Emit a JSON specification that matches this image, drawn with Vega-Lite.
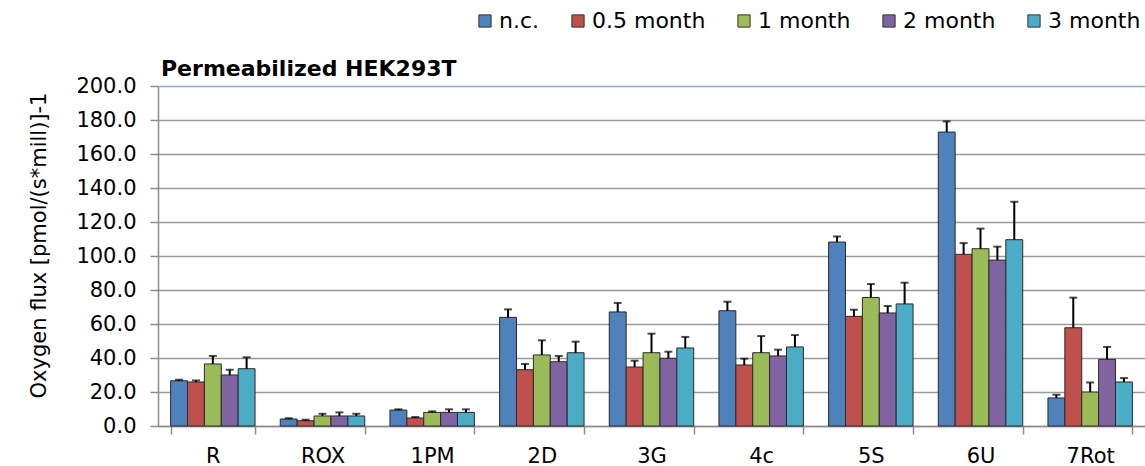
{
  "$schema": "https://vega.github.io/schema/vega-lite/v6.json",
  "autosize": "none",
  "width": 987,
  "height": 340,
  "padding": {"left": 158, "top": 86, "right": 0, "bottom": 40},
  "background": "white",
  "title": {
    "text": "Permeabilized HEK293T",
    "anchor": "start",
    "frame": "group",
    "font": "DejaVu Sans",
    "fontSize": 22,
    "fontWeight": "bold",
    "color": "#000000",
    "baseline": "alphabetic",
    "offset": -88,
    "dx": 3
  },
  "config": {
    "view": {"stroke": null},
    "font": "DejaVu Sans",
    "axis": {"labelColor": "#000000", "titleColor": "#000000"},
    "axisY": {
      "titleFontSize": 21,
      "titleFontWeight": "normal",
      "titleAngle": -90,
      "titleBaseline": "alphabetic",
      "titleAlign": "center",
      "titleX": -113,
      "titleY": 159,
      "labelOverlap": false,
      "format": ".1f",
      "labelFontSize": 21,
      "labelPadding": 14,
      "tickSize": 8,
      "tickColor": "#8c8c8c",
      "tickWidth": 1.5,
      "domainColor": "#8c8c8c",
      "domainWidth": 1.5,
      "grid": true,
      "gridColor": {"condition": {"test": "datum.value === 200", "value": "#8fa9d4"}, "value": "#9a9a9a"},
      "gridWidth": 1.5
    }
  },
  "data": {
    "values": [
      {"cat": "R", "series": "n.c.", "value": 26.6, "upper": 27.2},
      {"cat": "R", "series": "0.5 month", "value": 25.9, "upper": 26.8},
      {"cat": "R", "series": "1 month", "value": 36.5, "upper": 41.2},
      {"cat": "R", "series": "2 month", "value": 30.0, "upper": 33.1},
      {"cat": "R", "series": "3 month", "value": 33.7, "upper": 40.4},
      {"cat": "ROX", "series": "n.c.", "value": 4.1, "upper": 4.5},
      {"cat": "ROX", "series": "0.5 month", "value": 3.1, "upper": 3.7},
      {"cat": "ROX", "series": "1 month", "value": 5.9, "upper": 7.2},
      {"cat": "ROX", "series": "2 month", "value": 5.9, "upper": 8.0},
      {"cat": "ROX", "series": "3 month", "value": 5.9, "upper": 7.2},
      {"cat": "1PM", "series": "n.c.", "value": 9.4, "upper": 9.8},
      {"cat": "1PM", "series": "0.5 month", "value": 4.7, "upper": 5.3},
      {"cat": "1PM", "series": "1 month", "value": 8.0, "upper": 8.6},
      {"cat": "1PM", "series": "2 month", "value": 8.0, "upper": 9.8},
      {"cat": "1PM", "series": "3 month", "value": 8.0, "upper": 9.8},
      {"cat": "2D", "series": "n.c.", "value": 63.9, "upper": 68.6},
      {"cat": "2D", "series": "0.5 month", "value": 33.1, "upper": 36.5},
      {"cat": "2D", "series": "1 month", "value": 41.8, "upper": 50.4},
      {"cat": "2D", "series": "2 month", "value": 37.8, "upper": 41.2},
      {"cat": "2D", "series": "3 month", "value": 43.1, "upper": 49.6},
      {"cat": "3G", "series": "n.c.", "value": 67.1, "upper": 72.4},
      {"cat": "3G", "series": "0.5 month", "value": 34.7, "upper": 38.4},
      {"cat": "3G", "series": "1 month", "value": 43.1, "upper": 54.3},
      {"cat": "3G", "series": "2 month", "value": 39.8, "upper": 43.7},
      {"cat": "3G", "series": "3 month", "value": 45.9, "upper": 52.4},
      {"cat": "4c", "series": "n.c.", "value": 67.8, "upper": 73.1},
      {"cat": "4c", "series": "0.5 month", "value": 35.9, "upper": 39.6},
      {"cat": "4c", "series": "1 month", "value": 43.1, "upper": 52.9},
      {"cat": "4c", "series": "2 month", "value": 41.2, "upper": 44.9},
      {"cat": "4c", "series": "3 month", "value": 46.5, "upper": 53.5},
      {"cat": "5S", "series": "n.c.", "value": 108.2, "upper": 111.5},
      {"cat": "5S", "series": "0.5 month", "value": 64.5, "upper": 68.4},
      {"cat": "5S", "series": "1 month", "value": 75.6, "upper": 83.5},
      {"cat": "5S", "series": "2 month", "value": 66.5, "upper": 70.6},
      {"cat": "5S", "series": "3 month", "value": 71.8, "upper": 84.3},
      {"cat": "6U", "series": "n.c.", "value": 172.9, "upper": 179.2},
      {"cat": "6U", "series": "0.5 month", "value": 101.0, "upper": 107.6},
      {"cat": "6U", "series": "1 month", "value": 104.3, "upper": 116.1},
      {"cat": "6U", "series": "2 month", "value": 97.6, "upper": 105.5},
      {"cat": "6U", "series": "3 month", "value": 109.6, "upper": 131.9},
      {"cat": "7Rot", "series": "n.c.", "value": 16.5, "upper": 18.4},
      {"cat": "7Rot", "series": "0.5 month", "value": 57.8, "upper": 75.5},
      {"cat": "7Rot", "series": "1 month", "value": 20.0, "upper": 25.6},
      {"cat": "7Rot", "series": "2 month", "value": 39.2, "upper": 46.5},
      {"cat": "7Rot", "series": "3 month", "value": 25.9, "upper": 28.2}
    ]
  },
  "encoding": {
    "x": {
      "field": "cat",
      "type": "nominal",
      "sort": ["R", "ROX", "1PM", "2D", "3G", "4c", "5S", "6U", "7Rot"],
      "scale": {"paddingInner": 0.23, "paddingOuter": 0.115},
      "axis": {
        "title": null,
        "labelAngle": 0,
        "labelFontSize": 21,
        "labelPadding": 11,
        "tickBand": "extent",
        "tickSize": 8,
        "tickColor": "#8c8c8c",
        "tickWidth": 1.5,
        "domainColor": "#8c8c8c",
        "domainWidth": 1.5,
        "grid": false
      }
    },
    "xOffset": {
      "field": "series",
      "type": "nominal",
      "sort": ["n.c.", "0.5 month", "1 month", "2 month", "3 month"],
      "scale": {"paddingInner": 0, "paddingOuter": 0}
    }
  },
  "layer": [
    {
      "mark": {"type": "bar", "stroke": "#2a2a2a", "strokeWidth": 1},
      "encoding": {
        "y": {
          "field": "value",
          "type": "quantitative",
          "scale": {"domain": [0, 200], "nice": false},
          "axis": {"title": "Oxygen flux [pmol/(s*mill)]-1", "values": [0, 20, 40, 60, 80, 100, 120, 140, 160, 180, 200]}
        },
        "color": {
          "field": "series",
          "type": "nominal",
          "sort": ["n.c.", "0.5 month", "1 month", "2 month", "3 month"],
          "scale": {
            "domain": ["n.c.", "0.5 month", "1 month", "2 month", "3 month"],
            "range": ["#4F81BD", "#C0504D", "#9BBB59", "#8064A2", "#4BACC6"]
          },
          "legend": {
            "title": null,
            "orient": "none",
            "direction": "horizontal",
            "legendX": 316,
            "legendY": -76,
            "symbolType": "square",
            "symbolSize": 150,
            "symbolStrokeColor": "#333333",
            "symbolStrokeWidth": 1,
            "labelFontSize": 22,
            "labelColor": "#000000",
            "labelOffset": 3,
            "columnPadding": 27
          }
        }
      }
    },
    {
      "mark": {"type": "rule", "color": "#000000", "strokeWidth": 2},
      "encoding": {
        "y": {"field": "value", "type": "quantitative", "axis": {"title": "Oxygen flux [pmol/(s*mill)]-1", "values": [0, 20, 40, 60, 80, 100, 120, 140, 160, 180, 200]}},
        "y2": {"field": "upper"}
      }
    },
    {
      "mark": {"type": "tick", "color": "#000000", "thickness": 2, "size": 8, "orient": "horizontal"},
      "encoding": {
        "y": {"field": "upper", "type": "quantitative", "axis": {"title": "Oxygen flux [pmol/(s*mill)]-1", "values": [0, 20, 40, 60, 80, 100, 120, 140, 160, 180, 200]}}
      }
    }
  ]
}
